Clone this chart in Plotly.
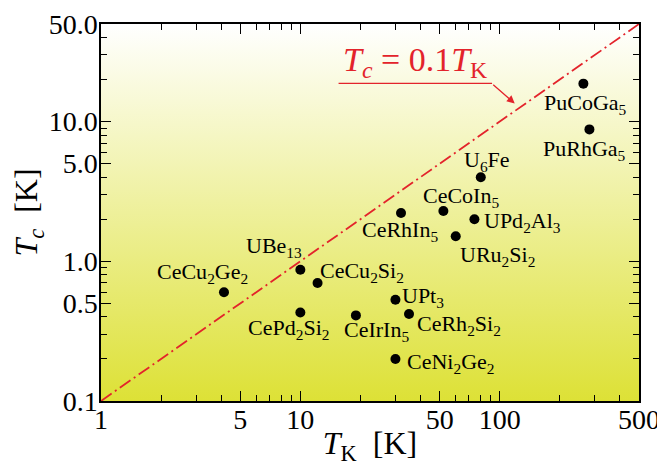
import numpy as np
import plotly.graph_objects as go

# ---- data ----
compounds = ["CeCu<sub>2</sub>Ge<sub>2</sub>", "UBe<sub>13</sub>", "CeCu<sub>2</sub>Si<sub>2</sub>",
             "CePd<sub>2</sub>Si<sub>2</sub>", "CeIrIn<sub>5</sub>", "UPt<sub>3</sub>",
             "CeRh<sub>2</sub>Si<sub>2</sub>", "CeNi<sub>2</sub>Ge<sub>2</sub>", "U<sub>6</sub>Fe",
             "CeCoIn<sub>5</sub>", "CeRhIn<sub>5</sub>", "UPd<sub>2</sub>Al<sub>3</sub>",
             "URu<sub>2</sub>Si<sub>2</sub>", "PuCoGa<sub>5</sub>", "PuRhGa<sub>5</sub>"]
TK = [4.14, 10.0, 12.2, 10.0, 19.0, 30.0, 35.1, 30.0, 80.4, 52.2, 32.0, 74.7, 60.2, 263, 282]
Tc = [0.60, 0.87, 0.70, 0.43, 0.41, 0.53, 0.42, 0.20, 4.0, 2.29, 2.22, 2.0, 1.51, 18.7, 8.8]

x_ticks = [1, 5, 10, 50, 100, 500]
x_ticktext = ["1", "5", "10", "50", "100", "500"]
y_ticks = [0.1, 0.5, 1, 5, 10, 50]
y_ticktext = ["0.1", "0.5", "1.0", "5.0", "10.0", "50.0"]
ratio = 0.1
line_TK = [1, 500]

# ---- layout helpers (label offsets in px: dx right, dy up) ----
label_dx = [-21, -26, 44, -12, 21, 28, 50, 56, 6, 18, -1, 48, 42, 2, -5]
label_dy = [19, 23, 11, -16, -16, 3, -11, -4, 16, 14, -18, -3, -20, -20, -21]

FONT = "Liberation Serif"
RED = "#e3232b"

minor_x = [v * d for d in (1, 10, 100) for v in range(2, 10) if v * d < 500 and v != 5]
minor_y = [v * d for d in (0.1, 1, 10) for v in range(2, 10) if v * d < 50 and v != 5]

fig = go.Figure()

# gradient background
fig.add_trace(go.Scatter(
    x=[line_TK[0], line_TK[1], line_TK[1], line_TK[0], line_TK[0]],
    y=[y_ticks[0], y_ticks[0], y_ticks[-1], y_ticks[-1], y_ticks[0]],
    fill="toself", mode="lines", line=dict(width=0),
    fillgradient=dict(type="vertical", colorscale=[[0, "#dde136"], [1, "#ffffff"]]),
    hoverinfo="skip", showlegend=False))

# Tc = 0.1 TK line
fig.add_trace(go.Scatter(
    x=line_TK, y=[ratio * t for t in line_TK], mode="lines",
    line=dict(color=RED, width=1.8, dash="13px,4px,2px,4px"),
    showlegend=False, hoverinfo="skip"))

# points
fig.add_trace(go.Scatter(
    x=TK, y=Tc, mode="markers",
    marker=dict(color="black", size=10),
    showlegend=False))

annotations = []
for name, xv, yv, dx, dy in zip(compounds, TK, Tc, label_dx, label_dy):
    annotations.append(dict(
        x=np.log10(xv), y=np.log10(yv), xref="x", yref="y",
        text=name, showarrow=False, xshift=dx, yshift=dy,
        font=dict(family=FONT, size=22, color="black")))

# formula label with pointer
tip_TK, tip_Tc = 119, 13.5
annotations.append(dict(
    x=np.log10(37.6), y=np.log10(26.6), xref="x", yref="y",
    text="<i>T<sub>c</sub></i> = 0.1<i>T</i><sub>K</sub>", showarrow=False,
    font=dict(family=FONT, size=34, color=RED)))
annotations.append(dict(
    x=np.log10(91.6), y=np.log10(18.8), xref="x", yref="y", text="",
    showarrow=True, arrowhead=0, ax=-155, ay=0, arrowwidth=1.3, arrowcolor=RED))
annotations.append(dict(
    x=np.log10(tip_TK), y=np.log10(tip_Tc), xref="x", yref="y", text="",
    showarrow=True, arrowhead=2, arrowsize=1.2, ax=-23, ay=-20,
    arrowwidth=1.3, arrowcolor=RED))

axis_common = dict(
    type="log", showgrid=False, zeroline=False, automargin=False,
    showline=True, linecolor="black", linewidth=1.5, mirror="ticks",
    ticks="inside", ticklen=10, tickwidth=1.2, tickcolor="black",
    tickfont=dict(family=FONT, size=28, color="black"),
)

# the page body has an 8px default margin; figure size/margins compensate
fig.update_layout(
    width=657, height=458,
    margin=dict(l=93, r=26, t=16, b=65),
    paper_bgcolor="white", plot_bgcolor="white",
    font=dict(family=FONT, color="black"),
    annotations=annotations,
    xaxis=dict(**axis_common,
               range=[np.log10(line_TK[0]), np.log10(line_TK[1])],
               tickvals=x_ticks, ticktext=x_ticktext, ticklabelstandoff=-7,
               minor=dict(tickvals=minor_x, ticks="inside", ticklen=6,
                          tickwidth=1.2, tickcolor="black", showgrid=False),
               title=dict(text="<i>T</i><sub>K</sub>  [K]",
                          font=dict(family=FONT, size=32), standoff=13)),
    yaxis=dict(**axis_common,
               range=[np.log10(y_ticks[0]), np.log10(y_ticks[-1])],
               tickvals=y_ticks, ticktext=y_ticktext, ticklabelstandoff=-4,
               minor=dict(tickvals=minor_y, ticks="inside", ticklen=6,
                          tickwidth=1.2, tickcolor="black", showgrid=False),
               title=dict(text="<i>T<sub>c</sub></i>  [K]",
                          font=dict(family=FONT, size=32), standoff=4)),
)

fig.write_html("out.html")
